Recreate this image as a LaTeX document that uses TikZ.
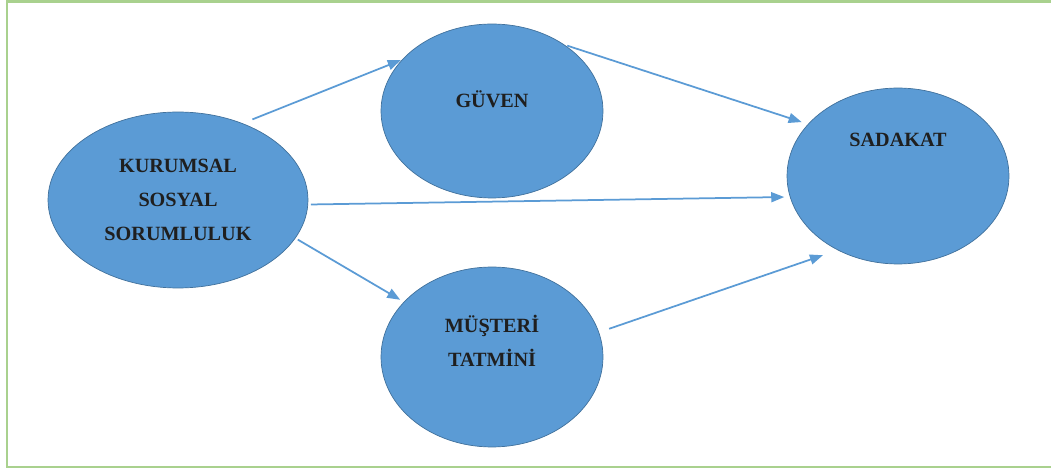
\documentclass[tikz,border=0pt]{standalone}
\usepackage{fontspec}
\setmainfont{Liberation Serif}
\usetikzlibrary{shapes.geometric}
\usetikzlibrary{arrows.meta}
\definecolor{elmavi}{HTML}{5B9BD5}
\definecolor{kenar}{HTML}{41719C}
\definecolor{yesil}{HTML}{A9D18E}

\begin{document}
\begin{tikzpicture}[x=0.02cm, y=-0.02cm,
  kutu/.style={ellipse, draw=kenar, fill=elmavi, line width=0.4pt, inner sep=0pt, outer sep=0pt},
  etiket/.style={align=center, font=\bfseries\fontsize{11.5}{19.5}\selectfont, text=black!88},
  ok/.style={draw=elmavi, line width=0.035cm, -{Triangle[length=0.26cm, width=0.2cm]}}]

  \useasboundingbox (0,0) rectangle (1051,472);

  % cerceve
  \draw[yesil, line width=0.05cm] (1060,1.5) -- (7,1.5) -- (7,467) -- (1060,467);

  % elipsler
  \node[kutu, etiket, minimum width=5.2cm, minimum height=3.52cm] (kss) at (178,200) {KURUMSAL\\SOSYAL\\SORUMLULUK};
  \node[kutu, minimum width=4.44cm, minimum height=3.48cm] (guven) at (492,111) {};
  \node[kutu, minimum width=4.44cm, minimum height=3.6cm] (mus) at (492,357) {};
  \node[kutu, minimum width=4.44cm, minimum height=3.52cm] (sadakat) at (898,176) {};

  \node[etiket] (guvenyazi) at (492,99) {GÜVEN};
  \node[etiket] (musyazi) at (492,341) {MÜŞTERİ\\TATMİNİ};
  \node[etiket] (sadakatyazi) at (898,140) {SADAKAT};

  % oklar
  \draw[ok, shorten <=0.22cm, shorten >=0.04cm] (kss.50) -- (guven.150);
  \draw[ok, shorten <=0.08cm, shorten >=0.14cm] (guven.43) -- (sadakat.150);
  \draw[ok, shorten <=0.06cm, shorten >=0.12cm] (kss.-2) -- (sadakat.191);
  \draw[ok, shorten <=0.06cm, shorten >=0.09cm] (kss.-18) -- (mus.148);
  \draw[ok, shorten <=0.22cm, shorten >=0.32cm] (mus.13) -- (sadakat.231);

\end{tikzpicture}
\end{document}
